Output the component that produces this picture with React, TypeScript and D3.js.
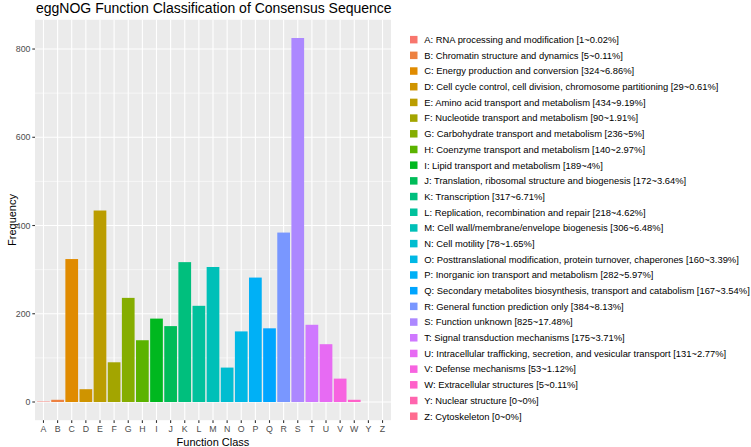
import React from "react";
import * as d3 from "d3";

const categories = ["A","B","C","D","E","F","G","H","I","J","K","L","M","N","O","P","Q","R","S","T","U","V","W","Y","Z"];
const values = [1,5,324,29,434,90,236,140,189,172,317,218,306,78,160,282,167,384,825,175,131,53,5,0,0];
const descriptions = [
  "RNA processing and modification [1~0.02%]",
  "Chromatin structure and dynamics [5~0.11%]",
  "Energy production and conversion [324~6.86%]",
  "Cell cycle control, cell division, chromosome partitioning [29~0.61%]",
  "Amino acid transport and metabolism [434~9.19%]",
  "Nucleotide transport and metabolism [90~1.91%]",
  "Carbohydrate transport and metabolism [236~5%]",
  "Coenzyme transport and metabolism [140~2.97%]",
  "Lipid transport and metabolism [189~4%]",
  "Translation, ribosomal structure and biogenesis [172~3.64%]",
  "Transcription [317~6.71%]",
  "Replication, recombination and repair [218~4.62%]",
  "Cell wall/membrane/envelope biogenesis [306~6.48%]",
  "Cell motility [78~1.65%]",
  "Posttranslational modification, protein turnover, chaperones [160~3.39%]",
  "Inorganic ion transport and metabolism [282~5.97%]",
  "Secondary metabolites biosynthesis, transport and catabolism [167~3.54%]",
  "General function prediction only [384~8.13%]",
  "Function unknown [825~17.48%]",
  "Signal transduction mechanisms [175~3.71%]",
  "Intracellular trafficking, secretion, and vesicular transport [131~2.77%]",
  "Defense mechanisms [53~1.12%]",
  "Extracellular structures [5~0.11%]",
  "Nuclear structure [0~0%]",
  "Cytoskeleton [0~0%]",
];
const yTicks = [0, 200, 400, 600, 800];
const yMinor = [100, 300, 500, 700];
const titleText = "eggNOG Function Classification of Consensus Sequence";

// ggplot2 hue palette (polar Luv, l=65, c=100)
function hclLuv(h: number, c: number, l: number): string {
  const Xn = 95.047, Yn = 100, Zn = 108.883;
  const un = (4 * Xn) / (Xn + 15 * Yn + 3 * Zn);
  const vn = (9 * Yn) / (Xn + 15 * Yn + 3 * Zn);
  const hr = (h * Math.PI) / 180;
  const u = c * Math.cos(hr), v = c * Math.sin(hr);
  const Y = l > 8 ? Yn * Math.pow((l + 16) / 116, 3) : (Yn * l) / 903.3;
  const up = u / (13 * l) + un, vp = v / (13 * l) + vn;
  const X = (Y * 9 * up) / (4 * vp);
  const Z = (Y * (12 - 3 * up - 20 * vp)) / (4 * vp);
  const x = X / 100, y = Y / 100, z = Z / 100;
  const rl = 3.2404542 * x - 1.5371385 * y - 0.4985314 * z;
  const gl = -0.969266 * x + 1.8760108 * y + 0.041556 * z;
  const bl = 0.0556434 * x - 0.2040259 * y + 1.0572252 * z;
  const g = (t: number) => {
    const s = t <= 0.0031308 ? 12.92 * t : 1.055 * Math.pow(t, 1 / 2.4) - 0.055;
    return Math.round(Math.max(0, Math.min(1, s)) * 255);
  };
  return d3.rgb(g(rl), g(gl), g(bl)).formatHex();
}
const n = categories.length;
const colors = categories.map((_, i) => hclLuv(15 + (360 / n) * i, 100, 65));

export default function App() {
  const W = 751, H = 447;
  const panelL = 35, panelR = 391;
  const y = d3.scaleLinear().domain([-41.25, 866.25]).range([420.2, 19.8]);
  const x = d3.scalePoint().domain(categories).range([panelL, panelR]).padding(0.6);
  const step = x.step();
  const bw = step * 0.9;
  const cx = (c: string) => x(c) as number;
  const font = "'Liberation Sans', Arial, Helvetica, sans-serif";
  const legendY0 = 39.7, legendStep = 15.69;
  return (
    <svg width={W} height={H} style={{ position: "absolute", left: 0, top: 0, background: "#fff" }} fontFamily={font}>
      <rect x={0} y={0} width={W} height={H} fill="#fff" />
      <text x={36} y={12.5} fontSize={14} fill="#000">{titleText}</text>
      <rect x={panelL} y={y(866.25)} width={panelR - panelL} height={y(-41.25) - y(866.25)} fill="#EBEBEB" />
      {yMinor.map((t) => (
        <line key={"m" + t} x1={panelL} x2={panelR} y1={y(t)} y2={y(t)} stroke="#fff" strokeWidth={0.55} />
      ))}
      {yTicks.map((t) => (
        <line key={"g" + t} x1={panelL} x2={panelR} y1={y(t)} y2={y(t)} stroke="#fff" strokeWidth={1.1} />
      ))}
      {categories.map((c) => (
        <line key={"v" + c} x1={cx(c)} x2={cx(c)} y1={y(866.25)} y2={y(-41.25)} stroke="#fff" strokeWidth={1.1} />
      ))}
      {categories.map((c, i) => (
        <rect key={"b" + c} x={cx(c) - bw / 2} width={bw} y={y(values[i])} height={y(0) - y(values[i])} fill={colors[i]} />
      ))}
      {yTicks.map((t) => (
        <g key={"yt" + t}>
          <line x1={panelL - 2.7} x2={panelL} y1={y(t)} y2={y(t)} stroke="#333" strokeWidth={1.1} />
          <text x={panelL - 4.5} y={y(t)} dy="0.35em" textAnchor="end" fontSize={8.8} fill="#4D4D4D">{t}</text>
        </g>
      ))}
      {categories.map((c) => (
        <g key={"xt" + c}>
          <line x1={cx(c)} x2={cx(c)} y1={y(-41.25)} y2={y(-41.25) + 2.7} stroke="#333" strokeWidth={1.1} />
          <text x={cx(c)} y={432.3} textAnchor="middle" fontSize={8.8} fill="#4D4D4D">{c}</text>
        </g>
      ))}
      <text x={(panelL + panelR) / 2} y={445.5} textAnchor="middle" fontSize={11} fill="#000">Function Class</text>
      <text transform={`translate(15.5, ${(y(866.25) + y(-41.25)) / 2}) rotate(-90)`} textAnchor="middle" fontSize={11} fill="#000">Frequency</text>
      {categories.map((c, i) => (
        <g key={"l" + c}>
          <rect x={410} y={legendY0 + i * legendStep - 3.8} width={7.5} height={7.5} fill={colors[i]} />
          <text x={424.3} y={legendY0 + i * legendStep} dy="0.35em" fontSize={9.4} fill="#000">{`${c}: ${descriptions[i]}`}</text>
        </g>
      ))}
    </svg>
  );
}
